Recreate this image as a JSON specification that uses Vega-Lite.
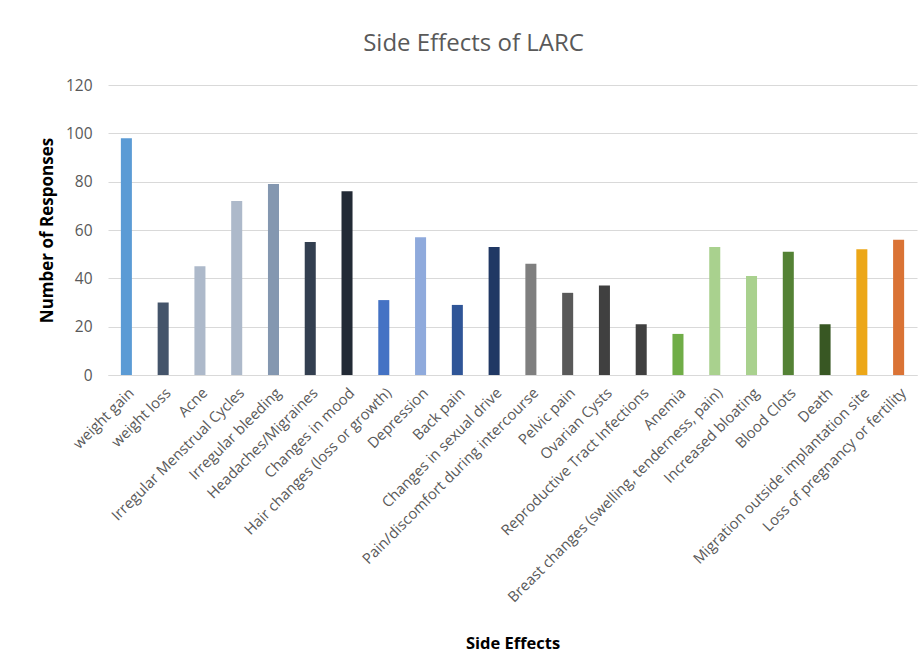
{
  "$schema": "https://vega.github.io/schema/vega-lite/v6.json",
  "autosize": "none",
  "width": 809,
  "height": 290,
  "padding": {"left": 108, "top": 85, "right": 6, "bottom": 297},
  "background": "white",
  "title": {"text": "Side Effects of LARC", "fontSize": 24, "font": "Open Sans", "fontWeight": "normal", "color": "#595959", "offset": 22, "dx": -39},
  "config": {"view": {"stroke": null}, "font": "Open Sans"},
  "data": {"values": [
    {"effect": "weight gain", "responses": 98},
    {"effect": "weight loss", "responses": 30},
    {"effect": "Acne", "responses": 45},
    {"effect": "Irregular Menstrual Cycles", "responses": 72},
    {"effect": "Irregular bleeding", "responses": 79},
    {"effect": "Headaches/Migraines", "responses": 55},
    {"effect": "Changes in mood", "responses": 76},
    {"effect": "Hair changes (loss or growth)", "responses": 31},
    {"effect": "Depression", "responses": 57},
    {"effect": "Back pain", "responses": 29},
    {"effect": "Changes in sexual drive", "responses": 53},
    {"effect": "Pain/discomfort during intercourse", "responses": 46},
    {"effect": "Pelvic pain", "responses": 34},
    {"effect": "Ovarian Cysts", "responses": 37},
    {"effect": "Reproductive Tract Infections", "responses": 21},
    {"effect": "Anemia", "responses": 17},
    {"effect": "Breast changes (swelling, tenderness, pain)", "responses": 53},
    {"effect": "Increased bloating", "responses": 41},
    {"effect": "Blood Clots", "responses": 51},
    {"effect": "Death", "responses": 21},
    {"effect": "Migration outside implantation site", "responses": 52},
    {"effect": "Loss of pregnancy or fertility", "responses": 56}
  ]},
  "mark": {"type": "bar"},
  "encoding": {
    "x": {
      "field": "effect", "type": "nominal", "sort": null,
      "scale": {"paddingInner": 0.7, "paddingOuter": 0.35},
      "axis": {"title": "Side Effects", "titleFontSize": 16.5, "titleFontWeight": "bold", "titleColor": "#000000", "titlePadding": 60,
               "labelAngle": -45, "labelFontSize": 14.8, "labelColor": "#595959", "labelPadding": 10,
               "ticks": false, "domainColor": "#D9D9D9", "domainWidth": 1, "labelLimit": 400}
    },
    "y": {
      "field": "responses", "type": "quantitative",
      "scale": {"domain": [0, 120]},
      "axis": {"title": "Number of Responses", "titleFontSize": 17, "titleFontWeight": "bold", "titleColor": "#000000", "titlePadding": 9,
               "values": [0, 20, 40, 60, 80, 100, 120], "labelFontSize": 15.5, "labelColor": "#595959", "labelPadding": 16,
               "ticks": false, "domain": false, "gridColor": "#D9D9D9", "gridWidth": 1}
    },
    "color": {
      "field": "effect", "type": "nominal", "legend": null,
      "scale": {
        "domain": ["weight gain", "weight loss", "Acne", "Irregular Menstrual Cycles", "Irregular bleeding", "Headaches/Migraines", "Changes in mood", "Hair changes (loss or growth)", "Depression", "Back pain", "Changes in sexual drive", "Pain/discomfort during intercourse", "Pelvic pain", "Ovarian Cysts", "Reproductive Tract Infections", "Anemia", "Breast changes (swelling, tenderness, pain)", "Increased bloating", "Blood Clots", "Death", "Migration outside implantation site", "Loss of pregnancy or fertility"],
        "range": ["#5B9BD5", "#44546A", "#ADB9CA", "#ADB9CA", "#8497B0", "#333F50", "#222A35", "#4472C4", "#8FAADC", "#2F5597", "#203864", "#7F7F7F", "#595959", "#404040", "#404040", "#70AD47", "#A9D18E", "#A9D18E", "#548235", "#385723", "#ECA718", "#DA7335"]
      }
    }
  }
}
